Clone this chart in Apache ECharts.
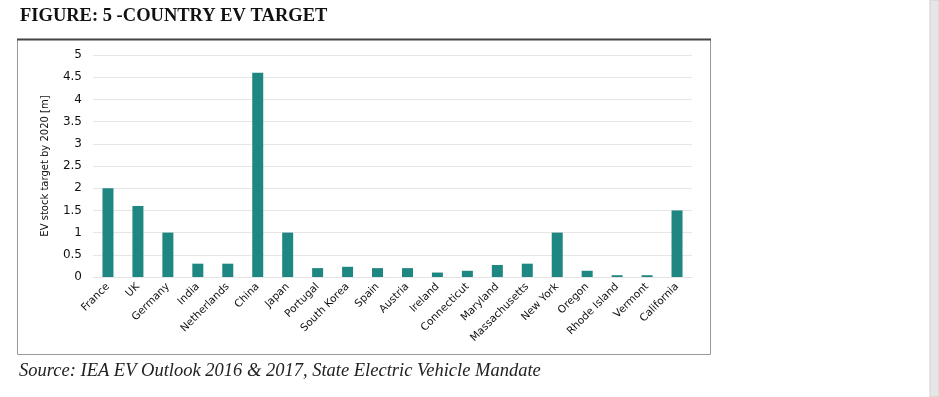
<!DOCTYPE html>
<html>
<head>
<meta charset="utf-8">
<script src="https://cdn.jsdelivr.net/npm/echarts@6/dist/echarts.min.js"></script>
<style>
  html, body { margin: 0; padding: 0; background: #fff; }
  #chart { width: 939px; height: 397px; }
</style>
</head>
<body>
<div id="chart"></div>
<script>
// values (million EVs by 2020)
var categories = ['France', 'UK', 'Germany', 'India', 'Netherlands', 'China', 'Japan', 'Portugal',
  'South Korea', 'Spain', 'Austria', 'Ireland', 'Connecticut', 'Maryland', 'Massachusetts',
  'New York', 'Oregon', 'Rhode Island', 'Vermont', 'California'];
var targets = [2, 1.6, 1, 0.3, 0.3, 4.6, 1, 0.2, 0.23, 0.2, 0.2, 0.1, 0.14, 0.27, 0.3, 1, 0.14, 0.04, 0.04, 1.5];
var yTicks = [0, 0.5, 1, 1.5, 2, 2.5, 3, 3.5, 4, 4.5, 5];

var myChart = echarts.init(document.getElementById('chart'));

var option = {
    backgroundColor: '#fff',
    animation: false,
    title: [{
        text: 'FIGURE: 5 -COUNTRY EV TARGET',
        left: 15, top: 2,
        textStyle: { fontFamily: 'Liberation Serif', fontWeight: 'bold', fontSize: 18.5, color: '#111' }
    }, {
        text: 'Source: IEA EV Outlook 2016 & 2017, State Electric Vehicle Mandate',
        left: 14, top: 357,
        textStyle: { fontFamily: 'Liberation Serif', fontStyle: 'italic', fontWeight: 'normal', fontSize: 18.5, color: '#222' }
    }],
    graphic: [
        { type: 'rect', shape: { x: 17.5, y: 39.5, width: 693, height: 315 },
          style: { fill: 'none', stroke: '#9a9a9a', lineWidth: 1 } },
        { type: 'line', shape: { x1: 17, y1: 39.5, x2: 711, y2: 39.5 },
          style: { stroke: '#444', lineWidth: 2 } },
        { type: 'rect', shape: { x: 930, y: 0, width: 9, height: 397 },
          style: { fill: '#e6e6e6', stroke: '#d0d0d0', lineWidth: 1 } }
    ],
    grid: { left: 93, right: 247, top: 55, bottom: 120 },
    xAxis: {
        type: 'category',
        data: categories,
        axisLine: { show: true, lineStyle: { color: '#e3e3e3' } },
        axisTick: { show: false },
        axisLabel: {
            interval: 0, rotate: 45, margin: 8,
            fontFamily: 'DejaVu Sans', fontSize: 10.5, color: '#111'
        }
    },
    yAxis: {
        type: 'value',
        min: yTicks[0], max: yTicks[yTicks.length - 1], interval: 0.5,
        name: 'EV stock target by 2020 [m]',
        nameLocation: 'middle',
        nameGap: 43,
        nameTextStyle: { fontFamily: 'DejaVu Sans', fontSize: 10, color: '#111' },
        axisLine: { show: false },
        axisTick: { show: false },
        axisLabel: { margin: 11, fontFamily: 'DejaVu Sans', fontSize: 12, color: '#111' },
        splitLine: { lineStyle: { color: '#e6e6e6', width: 1 } }
    },
    series: [{
        type: 'bar',
        data: targets,
        barWidth: 11,
        itemStyle: { color: '#1f8781' }
    }]
};

myChart.setOption(option);
window.addEventListener('resize', function () {
    myChart.resize();
});
</script>
</body>
</html>
